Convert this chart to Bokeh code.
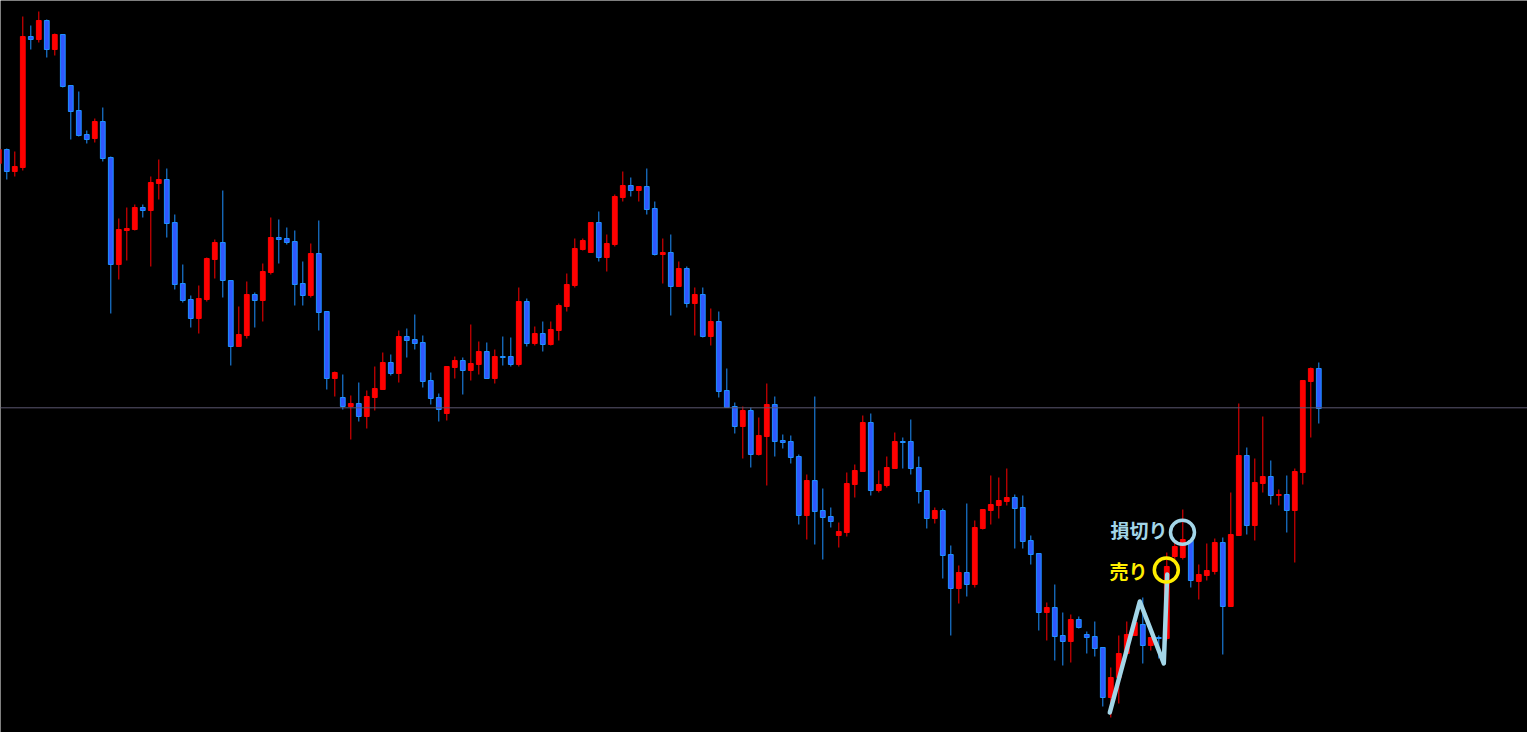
from bokeh.plotting import figure
from bokeh.models import Range1d, Span, ColumnDataSource
from bokeh.core.properties import value
from bokeh.embed import file_html
from bokeh.resources import INLINE

first_index = -1
opens = [837, 851, 829, 833, 964, 961, 980, 951, 966, 915, 890, 866, 862, 879, 843,
         736, 770, 771, 793, 790, 817, 821, 778, 717, 701, 682, 701, 741, 758, 720,
         654, 665, 706, 700, 728, 763, 762, 759, 717, 705, 747, 689, 622, 603, 594,
         597, 584, 603, 611, 638, 627, 664, 661, 658, 620, 603, 587, 633, 640, 630,
         636, 649, 622, 644, 644, 636, 699, 657, 667, 656, 670, 694, 715, 751, 748,
         778, 743, 756, 803, 815, 810, 814, 792, 746, 748, 714, 732, 697, 706, 664,
         679, 610, 594, 574, 590, 546, 564, 596, 560, 559, 544, 485, 520, 490, 484,
         465, 468, 516, 529, 578, 510, 515, 532, 559, 559, 533, 510, 482, 490, 446,
         412, 428, 416, 472, 490, 495, 499, 503, 493, 460, 447, 388, 393, 365, 359,
         381, 366, 364, 353, 303, 323, 347, 365, 376, 355, 363, 362, 444, 443, 460,
         419, 425, 429, 458, 394, 465, 545, 475, 517, 524, 505, 506, 490, 528, 619,
         632]
highs = [853, 852, 849, 984, 975, 989, 981, 967, 966, 915, 909, 870, 882, 893, 844,
         782, 793, 796, 796, 824, 841, 832, 786, 736, 705, 715, 743, 761, 810, 720,
         694, 719, 708, 737, 783, 781, 773, 770, 739, 757, 780, 689, 629, 626, 605,
         618, 610, 634, 648, 646, 670, 672, 686, 665, 628, 607, 634, 644, 643, 676,
         659, 658, 651, 664, 663, 713, 702, 674, 679, 679, 697, 727, 762, 762, 778,
         789, 766, 806, 829, 823, 814, 832, 799, 762, 766, 739, 734, 713, 713, 692,
         689, 632, 598, 594, 593, 583, 617, 604, 566, 565, 546, 526, 604, 512, 493,
         478, 528, 536, 585, 587, 530, 544, 568, 563, 581, 544, 510, 493, 492, 455,
         435, 497, 480, 491, 525, 523, 532, 506, 505, 465, 447, 398, 416, 388, 386,
         384, 369, 379, 353, 333, 365, 379, 382, 403, 363, 365, 448, 460, 491, 460,
         436, 457, 462, 463, 508, 597, 553, 542, 584, 540, 511, 525, 532, 620, 633,
         638]
lows = [835, 821, 824, 830, 951, 958, 943, 945, 913, 861, 864, 857, 858, 839, 687,
        721, 740, 770, 783, 734, 801, 763, 711, 698, 673, 667, 699, 722, 703, 635,
        654, 662, 673, 679, 726, 737, 756, 695, 695, 703, 670, 611, 604, 591, 561,
        579, 572, 590, 611, 625, 618, 643, 651, 613, 596, 579, 580, 622, 606, 620,
        626, 622, 617, 635, 634, 634, 654, 655, 649, 655, 660, 689, 713, 750, 748,
        739, 729, 754, 799, 804, 799, 786, 745, 717, 685, 714, 693, 665, 663, 655,
        603, 593, 567, 542, 533, 545, 515, 544, 552, 537, 476, 461, 456, 441, 473,
        453, 464, 503, 529, 505, 508, 513, 532, 532, 526, 497, 472, 477, 422, 365,
        397, 404, 413, 471, 476, 482, 495, 452, 452, 436, 370, 360, 340, 335, 338,
        372, 347, 344, 294, 283, 297, 346, 365, 337, 350, 342, 360, 440, 441, 413,
        401, 420, 426, 346, 394, 465, 466, 460, 508, 496, 495, 468, 438, 516, 563,
        577]
closes = [851, 829, 834, 964, 961, 980, 951, 966, 914, 889, 865, 861, 879, 842, 736,
          771, 772, 793, 790, 818, 821, 777, 716, 700, 682, 702, 742, 758, 720, 654,
          666, 706, 700, 729, 763, 761, 758, 716, 705, 747, 688, 622, 628, 594, 597,
          584, 604, 612, 638, 627, 664, 660, 657, 619, 602, 591, 634, 640, 630, 637,
          649, 622, 644, 643, 636, 699, 657, 667, 656, 671, 695, 716, 752, 760, 778,
          743, 757, 804, 815, 810, 814, 791, 746, 748, 714, 732, 697, 706, 664, 679,
          609, 593, 574, 590, 546, 565, 596, 559, 558, 543, 485, 520, 489, 483, 479,
          469, 517, 530, 578, 510, 516, 533, 559, 558, 532, 509, 482, 490, 445, 412,
          428, 416, 473, 491, 496, 500, 503, 492, 459, 446, 388, 393, 364, 359, 381,
          373, 363, 352, 303, 323, 347, 366, 378, 355, 363, 362, 434, 454, 461, 420,
          426, 430, 458, 394, 466, 545, 475, 518, 524, 505, 506, 490, 529, 620, 632,
          592]

ref_level = 592.7

n_pattern_x = [137.875, 141.625, 144.625, 145.05]
n_pattern_y = [288, 399, 337, 426]
marker_x = [146.96, 144.94]
marker_y = [468.3, 430.5]
label_x = [145.1, 142.6]
label_y = [471, 430.5]
label_text = ["損切り", "売り"]

LIGHT_BLUE = "#a3d6e8"
YELLOW = "#ffee00"
UP = "#ff0000"
DOWN_FILL = "#2f58ff"
DOWN_LINE = "#1e90ff"

idx = list(range(first_index, first_index + len(opens)))
up = dict(x=[], o=[], c=[], h=[], l=[])
dn = dict(x=[], o=[], c=[], h=[], l=[])
for i, o, h, l, c in zip(idx, opens, highs, lows, closes):
    d = up if c >= o else dn
    d["x"].append(i); d["o"].append(o); d["c"].append(c); d["h"].append(h); d["l"].append(l)

p = figure(width=1527, height=732, output_backend="svg", toolbar_location=None,
           x_range=Range1d(-0.7875, 190.0875), y_range=Range1d(268, 1000),
           background_fill_color="black", border_fill_color="black",
           min_border=0, outline_line_color=None)
p.xaxis.visible = False
p.yaxis.visible = False
p.grid.visible = False

p.add_layout(Span(location=ref_level, dimension="width", line_color="#5a5670", line_width=1))

su = ColumnDataSource(up)
sd = ColumnDataSource(dn)
p.segment(x0="x", y0="h", x1="x", y1="l", source=su, line_color=UP, line_width=1)
p.segment(x0="x", y0="h", x1="x", y1="l", source=sd, line_color=DOWN_LINE, line_width=1)
p.vbar(x="x", top="c", bottom="o", width=0.6, source=su, fill_color=UP, line_color=UP, line_width=1)
p.vbar(x="x", top="o", bottom="c", width=0.6, source=sd, fill_color=DOWN_FILL, line_color=DOWN_LINE, line_width=1)

p.line(n_pattern_x, n_pattern_y, line_color=LIGHT_BLUE, line_width=4.5, line_join="round", line_cap="round")

p.scatter(x=marker_x[:1], y=marker_y[:1], marker="circle", size=24, fill_color=None,
          line_color=LIGHT_BLUE, line_width=3.5)
p.scatter(x=marker_x[1:], y=marker_y[1:], marker="circle", size=24, fill_color=None,
          line_color=YELLOW, line_width=3.5)

p.text(x=label_x[:1], y=label_y[:1], text=label_text[:1], text_color=LIGHT_BLUE,
       text_font=value("Noto Sans CJK JP"), text_font_style="bold", text_font_size="19px",
       text_align="right", text_baseline="middle")
p.text(x=label_x[1:], y=label_y[1:], text=label_text[1:], text_color=YELLOW,
       text_font=value("Noto Sans CJK JP"), text_font_style="bold", text_font_size="19px",
       text_align="right", text_baseline="middle")

open("out.html", "w").write(file_html(p, INLINE))
